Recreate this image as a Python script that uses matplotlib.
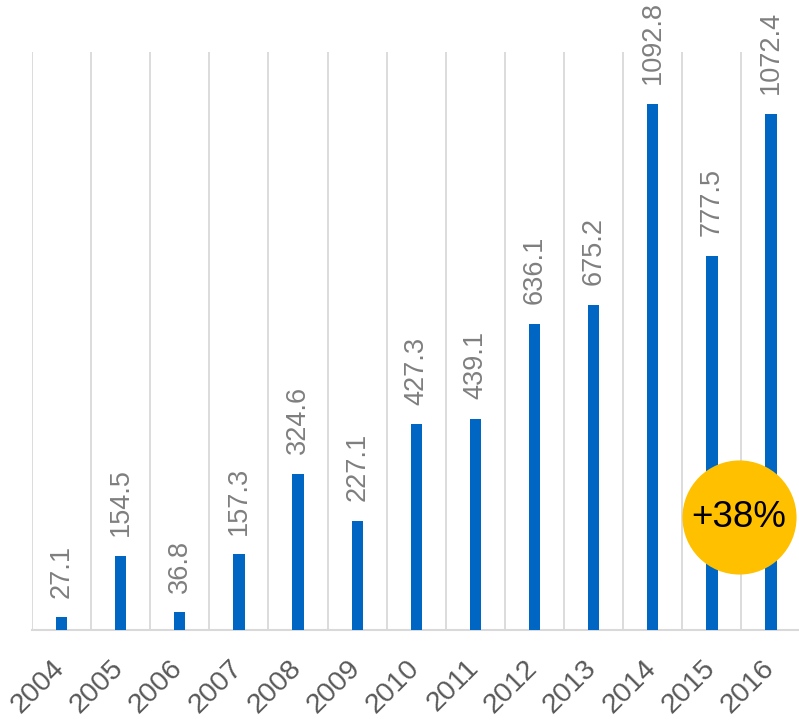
import numpy as np
import matplotlib
matplotlib.use("Agg")
import matplotlib.pyplot as plt
from matplotlib.transforms import ScaledTranslation

plt.rcParams['font.family'] = ['Liberation Sans', 'DejaVu Sans']

# Chart data
years = ['2004', '2005', '2006', '2007', '2008', '2009', '2010',
         '2011', '2012', '2013', '2014', '2015', '2016']
values = [27.1, 154.5, 36.8, 157.3, 324.6, 227.1, 427.3,
          439.1, 636.1, 675.2, 1092.8, 777.5, 1072.4]
badge_text = '+38%'

fig = plt.figure(figsize=(7.99, 7.25), dpi=100)
ax = fig.add_axes([0.040, 0.131, 0.962, 0.797])

x = np.arange(len(years))
ax.bar(x, values, width=0.19, color='#0066c4', zorder=3)

# value labels above bars
for xi, v in zip(x, values):
    ax.annotate(f'{v:.1f}', (xi, v), xytext=(0, 14), textcoords='offset points',
                rotation=90, ha='center', va='bottom', fontsize=19.5,
                color='#7f7f7f')

ax.set_xlim(-0.5, len(years) - 0.5)
ax.set_ylim(0, 1200)

# vertical separators between categories
ax.set_xticks(x - 0.5, minor=True)
ax.grid(True, which='minor', axis='x', color='#d9d9d9', linewidth=1.3, zorder=0)
ax.tick_params(which='both', length=0)
ax.set_yticks([])

ax.set_xticks(x)
ax.set_xticklabels(years, rotation=45, ha='right', rotation_mode='anchor',
                   fontsize=20.5, color='#595959')
ax.tick_params(axis='x', pad=18)
shift = ScaledTranslation(-10 / 100, 0, fig.dpi_scale_trans)
for lbl in ax.get_xticklabels():
    lbl.set_transform(lbl.get_transform() + shift)

for s in ['top', 'left', 'right']:
    ax.spines[s].set_visible(False)
ax.spines['bottom'].set_color('#d9d9d9')
ax.spines['bottom'].set_linewidth(1.5)

# highlight badge
ax.scatter([11.45], [234], s=6750, color='#ffc000', zorder=5, linewidths=0)
ax.text(11.45, 234, badge_text, ha='center', va='center', fontsize=26.5,
        color='black', zorder=6)

fig.savefig('out.png', dpi=100)
